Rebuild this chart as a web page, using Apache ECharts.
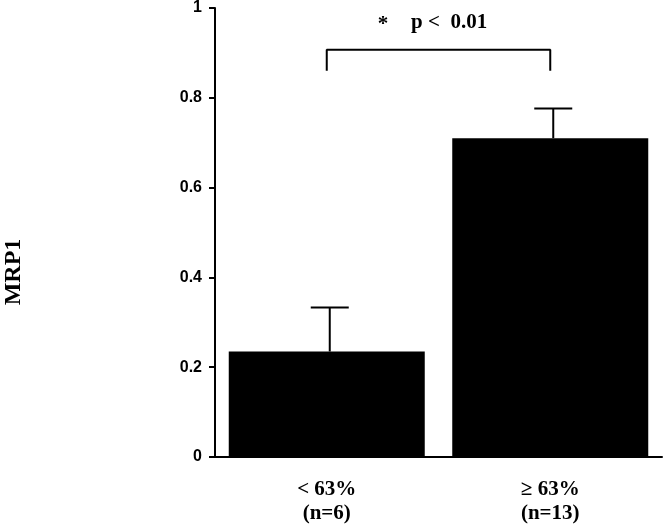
<!DOCTYPE html>
<html>
<head>
<meta charset="utf-8">
<script src="https://cdn.jsdelivr.net/npm/echarts@6/dist/echarts.min.js"></script>
<style>
  html, body { margin: 0; padding: 0; background: #fff; }
  #main { width: 667px; height: 528px; }
</style>
</head>
<body>
<div id="main"></div>
<script>
// 数据
const categories = ['< 63%\n(n=6)', '≥ 63%\n(n=13)'];
const means = [0.235, 0.71];
const upper = [0.333, 0.776];
const yTicks = [0, 0.2, 0.4, 0.6, 0.8, 1];
// 显著性括号 (category index, value)
const bracket = [[0, 0.86], [0, 0.907], [1, 0.907], [1, 0.86]];

const serif = '"Liberation Serif", "Times New Roman", serif';
const sans = '"Liberation Sans", Arial, sans-serif';

let myChart = echarts.init(document.getElementById('main'));
let option = {
    backgroundColor: '#fff',
    animation: false,
    grid: { left: 215, right: 5, top: 6, bottom: 71 },
    xAxis: {
        type: 'category',
        data: categories,
        axisLine: { lineStyle: { color: '#000', width: 2 } },
        axisTick: { alignWithLabel: true, length: 5, lineStyle: { color: '#000', width: 1.5 } },
        axisLabel: {
            margin: 21,
            color: '#000',
            fontFamily: serif,
            fontWeight: 'bold',
            fontSize: 21,
            lineHeight: 24
        }
    },
    yAxis: {
        type: 'value',
        min: yTicks[0],
        max: yTicks[yTicks.length - 1],
        interval: 0.2,
        axisLine: { show: true, lineStyle: { color: '#000', width: 2 } },
        axisTick: { show: true, length: 6, lineStyle: { color: '#000', width: 2 } },
        splitLine: { show: false },
        axisLabel: {
            margin: 13,
            color: '#000',
            fontFamily: sans,
            fontWeight: 'bold',
            fontSize: 16,
            formatter: v => String(Math.round(v * 10) / 10)
        }
    },
    graphic: [
        {
            type: 'text', x: 14, y: 272, rotation: Math.PI / 2,
            style: { text: 'MRP1', fill: '#000', font: 'bold 24px ' + serif, align: 'center', verticalAlign: 'middle' }
        },
        {
            type: 'text', x: 383, y: 25,
            style: { text: '*', fill: '#000', font: 'bold 21px ' + serif, align: 'center', verticalAlign: 'middle' }
        },
        {
            type: 'text', x: 411, y: 23,
            style: { text: 'p <  0.01', fill: '#000', font: 'bold 21px ' + serif, align: 'left', verticalAlign: 'middle' }
        }
    ],
    series: [
        {
            type: 'bar',
            data: means,
            barWidth: 196,
            itemStyle: { color: '#000' }
        },
        {
            // 误差线
            type: 'custom',
            data: means.map((m, i) => [i, m, upper[i]]),
            renderItem: (params, api) => {
                const p0 = api.coord([api.value(0), api.value(1)]);
                const p1 = api.coord([api.value(0), api.value(2)]);
                const x = p0[0] + 3;
                return {
                    type: 'group',
                    children: [
                        { type: 'line', shape: { x1: x, y1: p0[1], x2: x, y2: p1[1] }, style: { stroke: '#000', lineWidth: 2 } },
                        { type: 'line', shape: { x1: x - 19, y1: p1[1], x2: x + 19, y2: p1[1] }, style: { stroke: '#000', lineWidth: 2 } }
                    ]
                };
            },
            z: 5
        },
        {
            type: 'line',
            data: bracket,
            symbol: 'none',
            lineStyle: { color: '#000', width: 2 },
            z: 5
        }
    ]
};
option && myChart.setOption(option);
</script>
</body>
</html>
